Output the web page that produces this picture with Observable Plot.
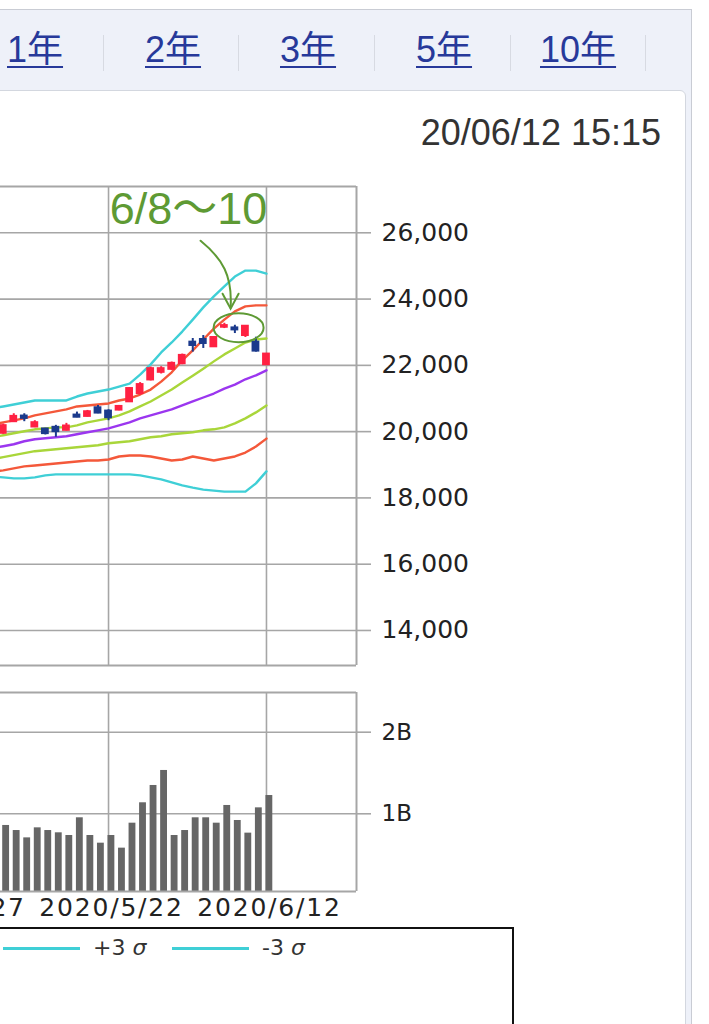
<!DOCTYPE html>
<html>
<head>
<meta charset="utf-8">
<script src="https://cdn.jsdelivr.net/npm/d3@7"></script>
<script src="https://cdn.jsdelivr.net/npm/@observablehq/plot@0.6"></script>
<style>
html, body { margin: 0; padding: 0; background: #fff; }
#page { position: relative; width: 709px; height: 1024px; overflow: hidden; background: #fff;
  font-family: "Liberation Sans", "Noto Sans CJK JP", sans-serif; }
#shell { position: absolute; left: -2px; top: 9px; width: 693px; height: 1100px; background: #eef1f9;
  border-top: 1px solid #c9ccd4; border-right: 1px solid #c9ccd4; }
#panel { position: absolute; left: -10px; top: 90px; width: 694px; height: 1000px; background: #fff;
  border: 1px solid #d3d7df; border-top-right-radius: 6px; }
.tab { position: absolute; top: 32px; font-size: 36px; line-height: 36px; color: #27399a;
  text-decoration: underline; text-decoration-thickness: 2px; text-underline-offset: 4px; white-space: nowrap; }
.sep { position: absolute; top: 35px; width: 1px; height: 36px; background: #d7dae2; }
#stamp { position: absolute; right: 48px; top: 115px; font-size: 36px; line-height: 36px; color: #333; }
#price { position: absolute; left: 0; top: 170px; }
#vol { position: absolute; left: 0; top: 680px; }
#vol g[aria-label="x-axis tick label"] text { letter-spacing: 1.8px; }
#legend { position: absolute; left: -20px; top: 927px; width: 530px; height: 150px; border: 2px solid #111; background: #fff; }
.lg-line { position: absolute; height: 2.5px; background: #3fcfd6; top: 947px; }
.lg-text { position: absolute; top: 935px; font-family: "DejaVu Sans", sans-serif; font-size: 22px; line-height: 26px; color: #333; }
.lg-text i { font-style: italic; }
</style>
</head>
<body>
<div id="page">
  <div id="shell"></div>
  <div class="sep" style="left:103px"></div>
  <div class="sep" style="left:238px"></div>
  <div class="sep" style="left:374px"></div>
  <div class="sep" style="left:510px"></div>
  <div class="sep" style="left:645px"></div>
  <div id="panel"></div>
  <div id="tabs"></div>
  <div id="stamp"></div>
  <div id="price"></div>
  <div id="vol"></div>
  <div id="legend"></div>
  <div id="legendItems"></div>
</div>
<script>
// ---------- data ----------
const periodTabs = ["1年", "2年", "3年", "5年", "10年"];
const timestamp = "20/06/12 15:15";

const dates = ["5/7","5/8","5/11","5/12","5/13","5/14","5/15","5/18","5/19","5/20","5/21","5/22",
  "5/25","5/26","5/27","5/28","5/29","6/1","6/2","6/3","6/4","6/5","6/8","6/9","6/10","6/11","6/12"];
const open  = [19470,19950,20300,20470,20140,20080,20130,20040,20500,20460,20720,20620,
  20650,20900,21150,21560,21790,21880,22050,22700,22780,22560,23150,23130,22900,22700,22020];
const high  = [19700,20230,20540,20540,20330,20100,20190,20250,20590,20640,20790,20660,
  20790,21330,21480,21950,21960,22100,22340,22810,22900,22870,23270,23210,23200,22850,22360];
const low   = [19450,19920,20280,20300,20120,19900,19830,20020,20420,20440,20540,20330,
  20630,20880,21100,21530,21740,21850,22020,22400,22510,22540,23110,22960,22840,22400,21990];
const close = [19674,20180,20460,20400,20270,19940,20000,20170,20435,20600,20560,20420,
  20760,21300,21420,21900,21900,22060,22300,22600,22660,22840,23200,23070,23180,22430,22340];
// volume in billions
const volume = [0.95,0.857,0.795,0.705,0.828,0.795,0.767,0.734,0.951,0.734,0.640,0.734,
  0.579,0.885,1.135,1.347,1.531,0.734,0.795,0.951,0.951,0.885,1.102,0.918,0.763,1.073,1.224];

const upper3 = [20700,20760,20820,20880,20940,20940,20940,20940,21060,21150,21210,21270,
  21360,21450,21720,22030,22390,22690,23020,23380,23750,24080,24380,24680,24860,24860,24770];
const upper2 = [20220,20280,20340,20400,20490,20550,20610,20670,20760,20790,20820,20850,
  20940,21000,21120,21270,21510,21790,22150,22450,22780,23110,23380,23630,23780,23810,23810];
const upper1 = [19830,19890,19950,20010,20070,20100,20130,20130,20190,20280,20340,20400,
  20490,20610,20760,20910,21090,21270,21480,21690,21900,22120,22330,22510,22690,22780,22810];
const middle = [19500,19560,19620,19710,19770,19800,19830,19860,19920,19980,20040,20100,
  20190,20280,20400,20490,20580,20670,20790,20910,21030,21150,21300,21420,21580,21700,21850];
const lower1 = [19170,19230,19290,19350,19410,19440,19470,19500,19530,19560,19590,19650,
  19680,19710,19770,19830,19860,19920,19950,19980,20040,20070,20130,20250,20400,20580,20790];
const lower2 = [18790,18830,18890,18950,18980,19010,19040,19070,19100,19130,19130,19160,
  19250,19280,19280,19250,19190,19130,19160,19250,19190,19130,19190,19250,19370,19550,19790];
const lower3 = [18640,18620,18590,18590,18620,18680,18710,18710,18710,18710,18710,18710,
  18710,18710,18680,18620,18560,18470,18380,18310,18250,18220,18190,18190,18190,18440,18800];

const priceTicks = [14000,16000,18000,20000,22000,24000,26000];
const volumeTicks = [1, 2];
const volumeTickLabels = ["1B", "2B"];
// grid days as trading-day offsets from 5/7 (index 0)
const gridDays = [-4, 11, 26];
const gridLabels = ["2020/4/27", "2020/5/22", "2020/6/12"];
const legendItems = [{sign: "+3", color: "#3fcfd6"}, {sign: "-3", color: "#3fcfd6"}];
const noteLabel = "6/8〜10";
const noteDay = 23.4;      // around 6/8–6/10
const notePrice = 23120;

// ---------- colours ----------
const UP = "#ff2142", DOWN = "#1b3a8c";
const C3 = "#3fcfd6", C2 = "#f4583a", C1 = "#a9d63a", CM = "#9b36ef";
const GRID = "#a6a6a6", GREEN = "#5e9a34";

// ---------- html parts ----------
const tabLefts = [7, 145, 280, 416, 540];
const tabsDiv = document.getElementById("tabs");
periodTabs.forEach((t, k) => {
  const s = document.createElement("div");
  s.className = "tab"; s.style.left = tabLefts[k] + "px"; s.textContent = t;
  tabsDiv.appendChild(s);
});
document.getElementById("stamp").textContent = timestamp;

const li = document.getElementById("legendItems");
const lineLefts = [3, 172], textLefts = [93, 262];
legendItems.forEach((it, k) => {
  const l = document.createElement("div");
  l.className = "lg-line"; l.style.left = lineLefts[k] + "px"; l.style.width = "77px"; l.style.background = it.color;
  li.appendChild(l);
  const t = document.createElement("div");
  t.className = "lg-text"; t.style.left = textLefts[k] + "px";
  t.innerHTML = it.sign + " <i>σ</i>";
  li.appendChild(t);
});

// ---------- tables ----------
const rows = dates.map((d, i) => ({i, d, o: open[i], h: high[i], l: low[i], c: close[i], v: volume[i],
  col: close[i] >= open[i] ? UP : DOWN}));
const bands = [
  {vals: upper3, color: C3}, {vals: upper2, color: C2}, {vals: upper1, color: C1},
  {vals: middle, color: CM},
  {vals: lower1, color: C1}, {vals: lower2, color: C2}, {vals: lower3, color: C3}
];

const xDomain = [0.74, 34.55];
const plotStyle = {background: "transparent", fontFamily: "DejaVu Sans", fontSize: "25px", color: "#222"};

function annotation(index, scales) {
  const cx = scales.x(noteDay), cy = scales.y(notePrice);
  const g = d3.create("svg:g").attr("fill", "none").attr("stroke", GREEN)
    .attr("stroke-width", 2).attr("stroke-linecap", "round");
  g.append("ellipse").attr("cx", cx).attr("cy", cy).attr("rx", 25).attr("ry", 14.5);
  g.append("path").attr("d", `M${cx-38},${cy-87} C${cx-16},${cy-69} ${cx-6},${cy-52} ${cx-8},${cy-20}`);
  g.append("path").attr("d", `M${cx-16},${cy-34} L${cx-8},${cy-19} L${cx},${cy-34}`);
  g.append("text").attr("x", cx - 50).attr("y", cy - 104).attr("text-anchor", "middle")
    .attr("fill", GREEN).attr("stroke", "none")
    .attr("font-family", "'Liberation Sans', 'Noto Sans CJK JP', sans-serif")
    .attr("font-size", 45).text(noteLabel);
  return g.node();
}

const priceDomain = [12943, 27397];
const price = Plot.plot({
  width: 709, height: 500, marginTop: 16, marginBottom: 5, marginLeft: 0, marginRight: 353,
  x: {domain: xDomain, axis: null},
  y: {domain: priceDomain, axis: null},
  style: plotStyle,
  marks: [
    Plot.ruleY(priceTicks, {stroke: GRID, strokeWidth: 1.6}),
    Plot.ruleX(gridDays, {stroke: GRID, strokeWidth: 1.6, clip: true}),
    ...bands.map(b => Plot.line(b.vals, {x: (d, i) => i, y: d => d, stroke: b.color, strokeWidth: 2.4, clip: true})),
    Plot.ruleX(rows, {x: "i", y1: "l", y2: "h", stroke: "col", strokeWidth: 2, clip: true}),
    Plot.rect(rows, {x1: d => d.i - 0.37, x2: d => d.i + 0.37, y1: "o", y2: "c", fill: "col",
      insetTop: -1, insetBottom: -1, clip: true}),
    Plot.ruleY([priceDomain[1]], {stroke: GRID, strokeWidth: 2}),
    Plot.ruleY([priceDomain[0]], {stroke: GRID, strokeWidth: 2}),
    Plot.ruleX([xDomain[1]], {stroke: GRID, strokeWidth: 2}),
    Plot.axisY(priceTicks, {anchor: "right", tickSize: 14, tickPadding: 11, tickFormat: d3.format(","),
      stroke: GRID, strokeWidth: 1.6, fill: "#222", fontSize: 25, label: null}),
    annotation
  ]
});
document.getElementById("price").appendChild(price);

const volDomain = [0.0478, 2.4865];
const vol = Plot.plot({
  width: 709, height: 251, marginTop: 12, marginBottom: 40, marginLeft: 0, marginRight: 353,
  x: {domain: xDomain, axis: null},
  y: {domain: volDomain, axis: null},
  style: plotStyle,
  marks: [
    Plot.ruleY(volumeTicks, {stroke: GRID, strokeWidth: 1.6}),
    Plot.ruleX(gridDays, {stroke: GRID, strokeWidth: 1.6, clip: true}),
    Plot.rectY(rows, {x1: d => d.i - 0.05, x2: d => d.i + 0.6, y: "v", fill: "#666", clip: true}),
    Plot.ruleY([volDomain[1]], {stroke: GRID, strokeWidth: 2}),
    Plot.ruleY([volDomain[0]], {stroke: GRID, strokeWidth: 2}),
    Plot.ruleX([xDomain[1]], {stroke: GRID, strokeWidth: 2}),
    Plot.axisY(volumeTicks, {anchor: "right", tickSize: 14, tickPadding: 11,
      tickFormat: d => volumeTickLabels[volumeTicks.indexOf(d)],
      stroke: GRID, strokeWidth: 1.6, fill: "#222", fontSize: 23, label: null}),
    Plot.axisX(gridDays, {anchor: "bottom", tickSize: 0, tickPadding: 7, dx: 3,
      tickFormat: d => gridLabels[gridDays.indexOf(d)], fill: "#222", fontSize: 25, label: null})
  ]
});
document.getElementById("vol").appendChild(vol);
</script>
</body>
</html>
